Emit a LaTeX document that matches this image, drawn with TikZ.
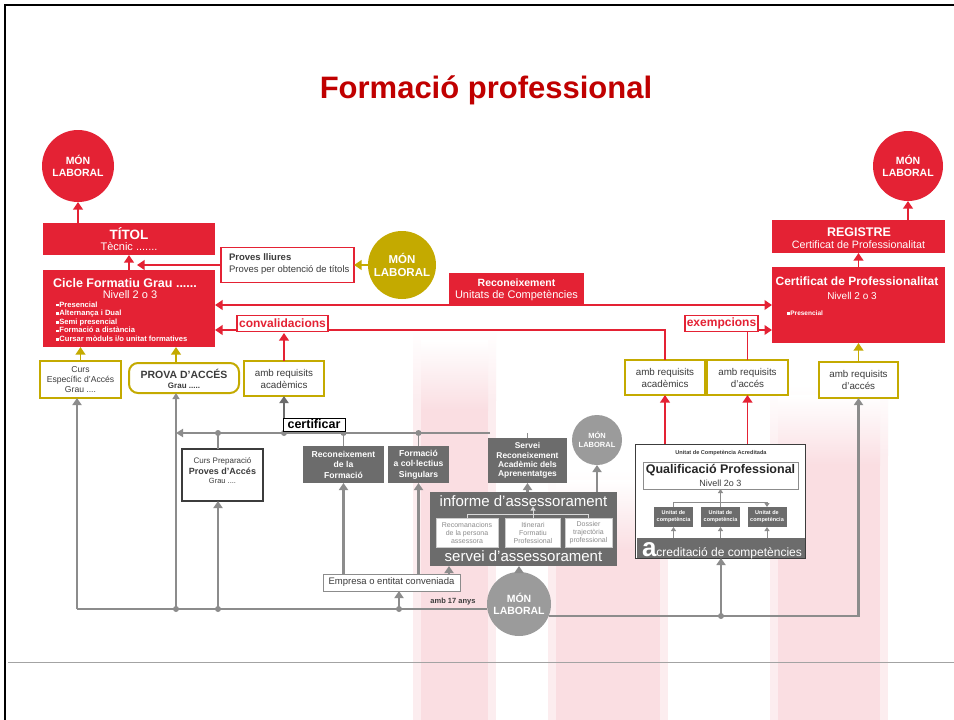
\documentclass[tikz,border=0pt]{standalone}
\usepackage{fontspec}
\setmainfont{Liberation Sans}
\usetikzlibrary{arrows.meta,calc}
\definecolor{fpred}{RGB}{228,34,52}
\definecolor{fptitle}{RGB}{192,0,0}
\definecolor{fpolive}{RGB}{196,170,0}
\definecolor{fpdgrey}{RGB}{108,108,108}
\definecolor{fpgrey}{RGB}{140,140,140}
\definecolor{fplgrey}{RGB}{155,155,155}
\definecolor{fppink}{RGB}{250,222,226}
\definecolor{fptext}{RGB}{60,60,60}
\newcommand{\fpsz}[2]{\fontsize{#1}{#2}\selectfont}
\newcommand{\fpb}{\rule[0.6pt]{2.6pt}{2.6pt}\hspace{0.8pt}}
\tikzset{
  redbox/.style={fill=fpred, draw=none},
  olivebox/.style={draw=fpolive, line width=2pt, fill=white, text=fptext, align=center},
  greybox/.style={fill=fpdgrey, text=white, align=center},
  moncirc/.style={circle, text=white, align=center},
  redarr/.style={draw=fpred, line width=1.9pt, -{Triangle[length=7.5pt,width=9.5pt]}},
  olivearr/.style={draw=fpolive, line width=1.9pt, -{Triangle[length=7.5pt,width=9.5pt]}},
  greyarr/.style={draw=fpgrey, line width=2.4pt, -{Triangle[length=7pt,width=9pt]}},
  darkarr/.style={draw=fpdgrey, line width=2.4pt, -{Triangle[length=7pt,width=9pt]}},
  greyline/.style={draw=fpgrey, line width=2.6pt},
  greymid/.style={draw=fpgrey, line width=1.8pt},
  greythin/.style={draw=fpgrey, line width=1.2pt, -{Triangle[length=6pt,width=7pt]}},
  smallarr/.style={draw=fpgrey, line width=1pt, -{Triangle[length=4pt,width=5pt]}},
  paleline/.style={draw=white!85!black, line width=0.8pt},
  palearr/.style={draw=white!85!black, line width=0.8pt, -{Triangle[length=4pt,width=5pt]}},
  tagbox/.style={fill=white, line width=1.2pt, inner sep=1pt},
}
\begin{document}
\begin{tikzpicture}[x=1pt,y=-1pt, every node/.style={inner sep=0pt, outer sep=0pt}]
\useasboundingbox (0,0) rectangle (954,720);
\fill[white] (0,0) rectangle (954,720);
% faint flag bands of the background
\foreach \a/\b/\t in {421/488/330, 556/660/470, 778/880/385}{
  \shade[top color=white, bottom color=fppink!55] (\a-8,\t) rectangle (\b+8,\t+70);
  \fill[fppink!55] (\a-8,\t+70) rectangle (\b+8,720);
  \shade[top color=white, bottom color=fppink] (\a,\t+10) rectangle (\b,\t+80);
  \fill[fppink] (\a,\t+80) rectangle (\b,720);
}
% frame
\draw[line width=2pt] (5,720) -- (5,5) -- (954,5);
\draw[fpgrey!80, line width=1pt] (8,662) -- (954,662);

% title
\node[text=fptitle, font=\bfseries\fpsz{31}{31}] (title) at (486,90) {Formació professional};

% ---------- red upper part ----------
\node[moncirc, fill=fpred, minimum size=72pt, font=\bfseries\fpsz{10.5}{12.5}] (monL) at (78,166) {MÓN\\LABORAL};
\node[redbox, minimum width=172pt, minimum height=32pt] (titol) at (129,239) {};
\node[text=white, font=\bfseries\fpsz{13.5}{14}] (titolA) at (129,234) {TÍTOL};
\node[text=white, font=\fpsz{11}{12}] (titolB) at (129,247) {Tècnic .......};

\node[redbox, minimum width=172pt, minimum height=77pt] (cicle) at (129,308.5) {};
\node[text=white, font=\bfseries\fpsz{12.5}{13}] (cicleA) at (125,283) {Cicle Formatiu Grau ......};
\node[text=white, font=\fpsz{11}{12}] (cicleB) at (130,294.5) {Nivell 2 o 3};
\node[text=white, font=\bfseries\fpsz{7.6}{8.6}, align=left, anchor=north west] (cicleL) at (56,301.5)
  {\fpb Presencial\\\fpb Alternança i Dual\\\fpb Semi presencial\\\fpb Formació a distància\\\fpb Cursar mòduls i/o unitat formatives};

\node[draw=fpred, line width=1.5pt, fill=white, minimum width=133pt, minimum height=35pt] (proves) at (287.5,265) {};
\node[anchor=west, text=fptext, font=\bfseries\fpsz{9.5}{10}] (provesA) at (229,257) {Proves lliures};
\node[anchor=west, text=fptext, font=\fpsz{9.5}{10}] (provesB) at (229,270) {Proves per obtenció de títols};

\node[moncirc, fill=fpolive, minimum size=68pt, font=\bfseries\fpsz{11.5}{13}] (monO) at (402,265) {MÓN\\LABORAL};

\node[redbox, minimum width=135pt, minimum height=32pt] (recon) at (516.5,289) {};
\node[text=white, font=\bfseries\fpsz{10.5}{11}] (reconA) at (516.5,283) {Reconeixement};
\node[text=white, font=\fpsz{11}{12}] (reconB) at (516.5,296) {Unitats de Competències};

\node[moncirc, fill=fpred, minimum size=70pt, font=\bfseries\fpsz{10.5}{12.5}] (monR) at (908,166) {MÓN\\LABORAL};
\node[redbox, minimum width=173pt, minimum height=33pt] (registre) at (858.5,236.5) {};
\node[text=white, font=\bfseries\fpsz{12.5}{13}] (registreA) at (859,232) {REGISTRE};
\node[text=white, font=\fpsz{10.7}{11}] (registreB) at (858.5,245) {Certificat de Professionalitat};
\node[redbox, minimum width=173pt, minimum height=76pt] (cert) at (858.5,305) {};
\node[text=white, font=\bfseries\fpsz{12}{13}] (certA) at (857,281) {Certificat de Professionalitat};
\node[text=white, font=\fpsz{10}{11}] (certB) at (852,296) {Nivell 2 o 3};
\node[anchor=west, text=white, font=\bfseries\fpsz{6.5}{7}] (certC) at (787,313) {\fpb Presencial};

% ---------- middle row of boxes ----------
\node[olivebox, minimum width=81pt, minimum height=37pt, font=\fpsz{8.6}{10}] (curs) at (80.5,379.5) {Curs\\Específic d'Accés\\Grau ....};
\node[olivebox, rounded corners=9pt, minimum width=110pt, minimum height=30pt] (prova) at (184,378) {};
\node[text=fptext, font=\bfseries\fpsz{10.5}{11}] (provaA) at (184,373.5) {PROVA D'ACCÉS};
\node[text=fptext, font=\bfseries\fpsz{8}{9}] (provaB) at (184,385.5) {Grau .....};
\node[olivebox, minimum width=80pt, minimum height=35pt, font=\fpsz{9.8}{12}] (acadL) at (284,378.5) {amb requisits\\acadèmics};
\node[olivebox, minimum width=80pt, minimum height=35pt, font=\fpsz{9.8}{12}] (acadR) at (665,377.5) {amb requisits\\acadèmics};
\node[olivebox, minimum width=81pt, minimum height=35pt, font=\fpsz{9.8}{12}] (accesM) at (747.5,377.5) {amb requisits\\d'accés};
\node[olivebox, minimum width=79pt, minimum height=36pt, font=\fpsz{9.8}{12}] (accesR) at (858.5,380) {amb requisits\\d'accés};

% ---------- lower grey part ----------
\node[draw=fptext, line width=1.5pt, fill=white, minimum width=81pt, minimum height=52pt] (cursPrep) at (222.5,475) {};
\node[text=fptext, font=\fpsz{8}{9}] (cursPrepA) at (222.5,461) {Curs Preparació};
\node[text=fptext, font=\bfseries\fpsz{9}{10}] (cursPrepB) at (222.5,471) {Proves d'Accés};
\node[text=fptext, font=\fpsz{7.5}{8}] (cursPrepC) at (222.5,481) {Grau ....};

\node[greybox, minimum width=81pt, minimum height=37pt, font=\bfseries\fpsz{8.6}{10.5}] (reconF) at (343.5,464.5) {Reconeixement\\de la\\Formació};
\node[greybox, minimum width=61pt, minimum height=37pt, font=\bfseries\fpsz{8.6}{10.5}] (formCol) at (418.5,464.5) {Formació\\a col·lectius\\Singulars};
\node[greybox, minimum width=79pt, minimum height=45pt, font=\bfseries\fpsz{8.4}{9.2}] (servRec) at (527.5,460.5) {Servei\\Reconeixement\\Acadèmic dels\\Aprenentatges};
\node[moncirc, fill=fplgrey, minimum size=50pt, font=\bfseries\fpsz{7.5}{9}] (monG1) at (597,440) {MÓN\\LABORAL};

\node[fill=fpdgrey, minimum width=187pt, minimum height=74pt] (informe) at (523.5,529) {};
\node[text=white, font=\fpsz{15}{15}] (infoTxt) at (523.5,501) {informe d'assessorament};
\node[text=white, font=\fpsz{15}{15}] (servTxt) at (523.5,556) {servei d'assessorament};
\node[fill=white, draw=white!80!black, line width=0.6pt, minimum width=62pt, minimum height=29pt, text=fpgrey, align=center, font=\fpsz{7}{8}] (rec1) at (467,532.5) {Recomanacions\\de la persona\\assessora};
\node[fill=white, draw=white!80!black, line width=0.6pt, minimum width=55pt, minimum height=29pt, text=fpgrey, align=center, font=\fpsz{7}{8}] (rec2) at (533,532.5) {Itinerari\\Formatiu\\Professional};
\node[fill=white, draw=white!80!black, line width=0.6pt, minimum width=47pt, minimum height=29pt, text=fpgrey, align=center, font=\fpsz{7}{8}] (rec3) at (588.5,532.5) {Dossier\\trajectòria\\professional};

\node[draw=fpgrey, line width=1pt, fill=white, text=fptext, font=\fpsz{9.5}{10}, minimum width=137pt, minimum height=17pt] (empresa) at (391.5,582.5) {Empresa o entitat conveniada};
\node[moncirc, fill=fplgrey, minimum size=64pt, font=\bfseries\fpsz{10.5}{12.5}] (monG2) at (519,604) {MÓN\\LABORAL};
\node[text=fptext, font=\bfseries\fpsz{7.5}{8}] (amb17) at (453,602) {amb 17 anys};

% qualificacio block
\node[draw=fptext, line width=0.8pt, fill=white, minimum width=170pt, minimum height=114pt] (quali) at (720,501) {};
\node[text=fptext, font=\bfseries\fpsz{5.6}{6}] (qTop) at (721,453) {Unitat de Competència Acreditada};
\node[draw=fpgrey, line width=0.8pt, minimum width=155pt, minimum height=27pt] (qualiIn) at (720.5,475.5) {};
\node[text=black!85, font=\bfseries\fpsz{12.5}{13}] (qualiA) at (720.5,470) {Qualificació Professional};
\node[text=fptext, font=\fpsz{9}{10}] (qualiB) at (720.5,483) {Nivell 2o 3};
\node[greybox, minimum width=39pt, minimum height=20pt, font=\bfseries\fpsz{5.5}{7}] (u1) at (673.5,517) {Unitat de\\competència};
\node[greybox, minimum width=39pt, minimum height=20pt, font=\bfseries\fpsz{5.5}{7}] (u2) at (720.5,517) {Unitat de\\competència};
\node[greybox, minimum width=39pt, minimum height=20pt, font=\bfseries\fpsz{5.5}{7}] (u3) at (767,517) {Unitat de\\competència};
\node[fill=fpdgrey, minimum width=168pt, minimum height=20pt] (acred) at (721,548) {};
\node[anchor=base west, text=white, font=\bfseries\fpsz{26}{26}] (acA) at (642,556.5) {a};
\node[anchor=base west, text=white, font=\fpsz{12}{12}] (acT) at (acA.base east) {creditació de competències};

% ---------- coordinates ----------
\coordinate (prTip) at (137,265);
\coordinate (cvY) at (0,330);
\coordinate (xP) at (176,0);
\coordinate (gA) at (77,609);
\coordinate (gB) at (176,609);
\coordinate (gC) at (218,609);
\coordinate (gD) at (399,609);
\coordinate (hL) at (490,433);
\coordinate (xE) at (449,0);
\coordinate (jI) at (0,514);
\coordinate (jQ) at (0,502);
\coordinate (rL) at (monG2.-22);
\coordinate (cvB) at (0,333);

% ---------- red connectors ----------
\draw[redarr] (titol.north -| monL.south) -- (monL.south);
\draw[redarr] (cicle.north) -- (titol.south);
\draw[redarr] (proves.west) -- (prTip);
\draw[olivearr] (monO.west) -- (proves.east);
\draw[redarr, {Triangle[length=7.5pt,width=9.5pt]}-{Triangle[length=7.5pt,width=9.5pt]}] (cicle.east |- recon.south) -- (cert.west |- recon.south);
\draw[redarr] (acadR.north) |- (cicle.east |- cvY);
\draw[redarr] (accesM.north) |- (cert.west |- cvY);
\draw[redarr] (acadL.north) -- (acadL.north |- cvB);
\draw[redarr] (quali.north -| acadR.south) -- (acadR.south);
\draw[redarr] (quali.north -| accesM.south) -- (accesM.south);
\draw[redarr] (cert.north) -- (registre.south);
\draw[redarr] (registre.north -| monR.south) -- (monR.south);
\draw[olivearr] (accesR.north) -- (accesR.north |- cert.south);
\draw[olivearr] (curs.north) -- (curs.north |- cicle.south);
\draw[olivearr] (prova.north -| xP) -- (cicle.south -| xP);

\node[tagbox, draw=fpred, text=fpred, font=\bfseries\fpsz{12}{12}, minimum width=91pt, minimum height=16pt] (conv) at (282.5,323.5) {convalidacions};
\node[tagbox, draw=fpred, text=fpred, font=\bfseries\fpsz{12}{12}, minimum width=73pt, minimum height=16pt] (exem) at (721.5,323.5) {exempcions};

% ---------- grey connectors ----------
\draw[greyline] (gA) -- (monG2.west |- gA);
\draw[greyarr] (gA) -- (curs.south -| gA);
\draw[greythin] (gB) -- (prova.south -| gB);
\draw[greyarr] (gC) -- (cursPrep.south -| gC);
\draw[greyarr] (gD) -- (empresa.south -| gD);
\draw[greymid, -{Triangle[length=7pt,width=8pt]}] (hL) -- (hL -| gB);
\draw[greymid] (cursPrep.north -| gC) -- (gC |- hL);
\draw[darkarr] (hL -| acadL.south) -- (acadL.south);
\draw[greymid] (reconF.north) -- (reconF.north |- hL);
\draw[greymid] (formCol.north) -- (formCol.north |- hL);
\draw[greyarr] (empresa.north -| reconF.south) -- (reconF.south);
\draw[greyarr] (empresa.north -| formCol.south) -- (formCol.south);
\draw[greyarr] (empresa.north -| xE) -- (informe.south -| xE);
\draw[greyarr] (monG2.north) -- (monG2.north |- informe.south);
\draw[greyarr] (informe.north -| servRec.south) -- (servRec.south);
\draw[greyarr] (informe.north -| monG1.south) -- (monG1.south);
\draw[greymid] (servRec.north) -- (servRec.north |- hL);
\draw[greyline, -{Triangle[length=7pt,width=9pt]}] (rL) -| (accesR.south);
\draw[greyarr] (rL -| acred.south) -- (acred.south);
\foreach \p in {(gB),(gC),(gD),(gC |- hL),(hL -| acadL.south),(reconF.north |- hL),(formCol.north |- hL),(rL -| acred.south)}
  \fill[fpgrey] \p circle (3pt);

% internals
\draw[paleline] (rec1.north) |- (rec3.north |- jI) -- (rec3.north);
\draw[palearr] (rec2.north) -- (rec2.north |- infoTxt.south);
\draw[smallarr] (u1.north) |- (u3.north |- jQ) -- (u3.north);
\draw[smallarr, -] (u2.north) -- (u2.north |- jQ);
\draw[smallarr] (u2.north |- jQ) -- (qualiIn.south);
\draw[smallarr] (acred.north -| u1.south) -- (u1.south);
\draw[smallarr] (acred.north -| u2.south) -- (u2.south);
\draw[smallarr] (acred.north -| u3.south) -- (u3.south);

\node[tagbox, draw=black, line width=1pt, text=black, font=\bfseries\fpsz{12.5}{12}, minimum width=62pt, minimum height=13pt] (certif) at (314,424.5) {certificar};
\end{tikzpicture}
\end{document}
